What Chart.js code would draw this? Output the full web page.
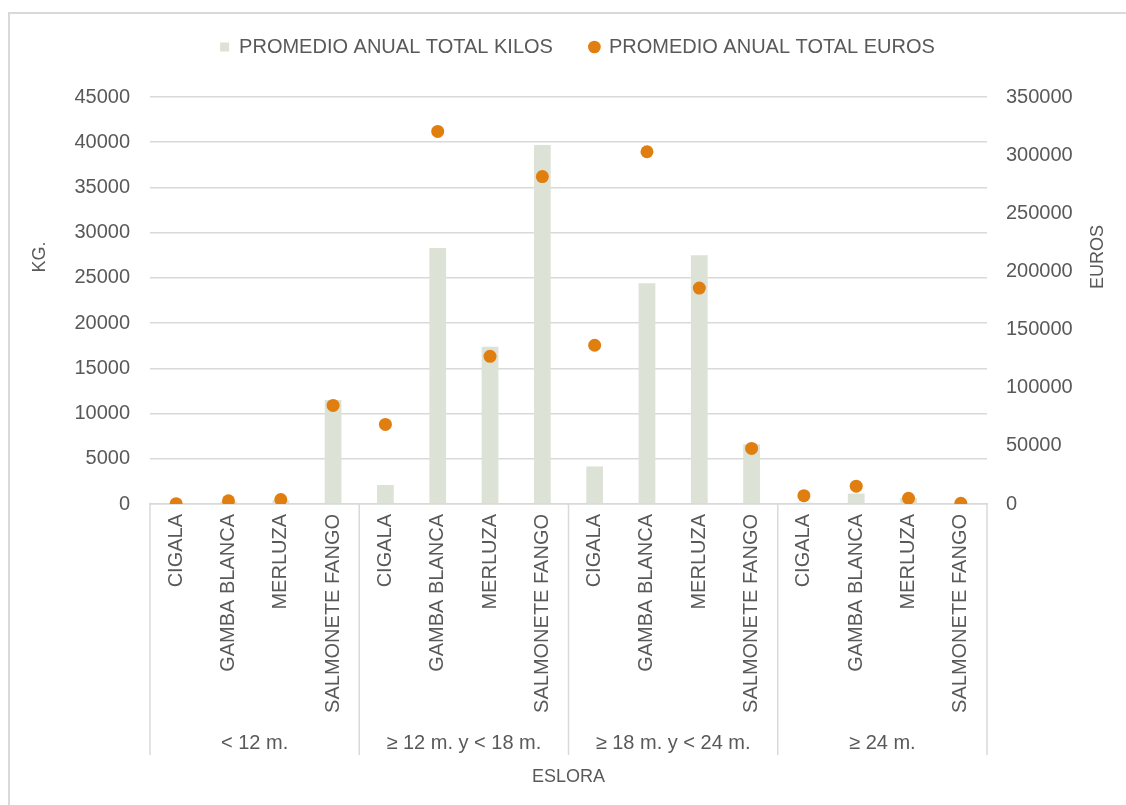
<!DOCTYPE html>
<html>
<head>
<meta charset="utf-8">
<script src="https://cdn.jsdelivr.net/npm/chart.js@4.4.0/dist/chart.umd.min.js"></script>
<style>
  html, body { margin: 0; padding: 0; background: #fff; overflow: hidden; }
  #frame { position: absolute; left: 8px; top: 12px; width: 1200px; height: 900px; border: 2px solid #d9d9d9; }
  #chart { position: absolute; left: 0; top: 0; }
</style>
</head>
<body>
<div id="frame"></div>
<canvas id="chart" width="1126" height="805"></canvas>
<script>
// eslora groups and species (one bar + one point per species and group)
const groups = ['< 12 m.', '≥ 12 m. y < 18 m.', '≥ 18 m. y < 24 m.', '≥ 24 m.'];
const species = ['CIGALA', 'GAMBA BLANCA', 'MERLUZA', 'SALMONETE FANGO'];

const kilos = [100, 250, 400, 11500, 2100, 28300, 17400, 39700, 4150, 24400, 27500, 6600, 150, 1150, 650, 100];
const euros = [300, 2700, 3800, 84800, 68400, 320400, 127000, 281600, 136500, 302900, 185700, 47800, 7200, 15300, 4900, 600];

const kgTicks = [0, 5000, 10000, 15000, 20000, 25000, 30000, 35000, 40000, 45000];
const euroTicks = [0, 50000, 100000, 150000, 200000, 250000, 300000, 350000];

const labels = groups.flatMap(() => species);

const textColor = '#595959';
const lineColor = '#d9d9d9';

Chart.defaults.font.family = "'Liberation Sans', Arial, sans-serif";
Chart.defaults.font.size = 20;
Chart.defaults.color = textColor;

// group row under the species labels, plus the two side titles
const groupAxis = {
    id: 'groupAxis',
    beforeLayout(chart) {
        const legend = chart.legend;
        if (legend && !legend._extra) {
            const fit = legend.fit;
            legend.fit = function() {
                fit.call(this);
                this.height += 30;
            };
            legend._extra = true;
        }
    },
    afterDraw(chart) {
        const ctx = chart.ctx;
        const xs = chart.scales.x;
        const area = chart.chartArea;
        const per = species.length;

        let edges = [];
        for (let g = 0; g <= groups.length; g++) {
            if (g === 0) edges.push(area.left);
            else if (g === groups.length) edges.push(area.right);
            else edges.push((xs.getPixelForValue(g * per - 1) + xs.getPixelForValue(g * per)) / 2);
        }

        ctx.save();
        ctx.strokeStyle = lineColor;
        ctx.lineWidth = 1.5;
        edges.forEach(x => {
            ctx.beginPath();
            ctx.moveTo(x, area.bottom);
            ctx.lineTo(x, area.bottom + 251);
            ctx.stroke();
        });

        ctx.fillStyle = textColor;
        ctx.font = "20px 'Liberation Sans', Arial, sans-serif";
        ctx.textAlign = 'center';
        ctx.textBaseline = 'middle';
        groups.forEach((g, i) => {
            ctx.fillText(g, (edges[i] + edges[i + 1]) / 2, area.bottom + 239);
        });

        // axis titles, both read bottom to top
        ctx.font = "18px 'Liberation Sans', Arial, sans-serif";
        const ty = area.top + 160;
        ctx.translate(40, ty);
        ctx.rotate(-Math.PI / 2);
        ctx.fillText('KG.', 0, 0);
        ctx.rotate(Math.PI / 2);
        ctx.translate(-40, -ty);
        const ex = chart.scales.y1.right - 28;
        ctx.translate(ex, ty);
        ctx.rotate(-Math.PI / 2);
        ctx.fillText('EUROS', 0, 0);
        ctx.restore();
    }
};

const ctx = document.getElementById('chart').getContext('2d');
new Chart(ctx, {
    type: 'bar',
    data: {
        labels: labels,
        datasets: [{
            label: 'PROMEDIO ANUAL TOTAL KILOS',
            data: kilos,
            backgroundColor: '#dce2d5',
            borderWidth: 0,
            pointStyle: 'rect',
            barPercentage: 0.32,
            categoryPercentage: 1,
            yAxisID: 'y',
            order: 2
        }, {
            type: 'line',
            label: 'PROMEDIO ANUAL TOTAL EUROS',
            data: euros,
            showLine: false,
            backgroundColor: '#e07e10',
            borderColor: '#e07e10',
            borderWidth: 0,
            pointStyle: 'circle',
            pointRadius: 6.5,
            pointHoverRadius: 6.5,
            yAxisID: 'y1',
            order: 1
        }]
    },
    options: {
        responsive: false,
        animation: false,
        layout: { padding: { left: 29, right: 0, top: 0, bottom: 0 } },
        plugins: {
            legend: {
                position: 'top',
                labels: {
                    usePointStyle: true,
                    boxWidth: 9,
                    boxHeight: 9,
                    padding: 37,
                    color: textColor,
                    font: { size: 20 },
                    sort: (a, b) => a.datasetIndex - b.datasetIndex
                }
            },
            tooltip: { enabled: false }
        },
        scales: {
            x: {
                grid: { display: false, drawTicks: false },
                border: { display: true, color: lineColor, width: 1.5 },
                ticks: { autoSkip: false, minRotation: 90, maxRotation: 90, padding: 10, font: { size: 20 } },
                title: { display: true, text: 'ESLORA', font: { size: 18 }, padding: { top: 0, bottom: 17 } },
                afterFit: s => { s.height = 301; }
            },
            y: {
                position: 'left',
                min: 0,
                max: 45000,
                afterBuildTicks: s => { s.ticks = kgTicks.map(v => ({ value: v })); },
                ticks: { padding: 20, callback: v => String(v) },
                grid: { color: lineColor, lineWidth: 1.5, drawTicks: false },
                border: { display: false },
                afterFit: s => { s.width = 121; }
            },
            y1: {
                position: 'right',
                min: 0,
                max: 350000,
                afterBuildTicks: s => { s.ticks = euroTicks.map(v => ({ value: v })); },
                ticks: { padding: 19, callback: v => String(v) },
                grid: { drawOnChartArea: false, drawTicks: false },
                border: { display: false },
                afterFit: s => { s.width = 139; }
            }
        }
    },
    plugins: [groupAxis]
});
</script>
</body>
</html>
